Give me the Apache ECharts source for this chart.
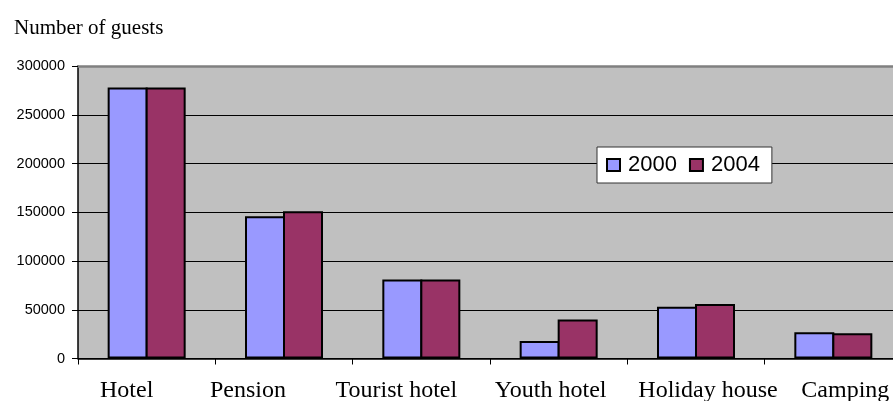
<!DOCTYPE html>
<html>
<head>
<meta charset="utf-8">
<script src="https://cdn.jsdelivr.net/npm/echarts@6/dist/echarts.min.js"></script>
<style>
  html, body { margin: 0; padding: 0; background: #fff; }
  #chart { width: 893px; height: 401px; }
</style>
</head>
<body>
<div id="chart"></div>
<script>
// Guests by accommodation type
const categories = ['Hotel', 'Pension', 'Tourist hotel', 'Youth hotel', 'Holiday house', 'Camping'];
const guests2000 = [278000, 146000, 81000, 18000, 53000, 27000];
const guests2004 = [278000, 151000, 81000, 40000, 56000, 26000];
const yTicks = [0, 50000, 100000, 150000, 200000, 250000, 300000];

// horizontal nudge (px) for each category caption
const labelShift = [-20, -36, -25, -8, 12, 12];

const rich = {};
categories.forEach((c, i) => {
  const s = labelShift[i];
  rich['c' + i] = {
    fontFamily: 'Liberation Serif, Times New Roman, serif',
    fontSize: 24,
    color: '#000',
    padding: s < 0 ? [0, -2 * s, 0, 0] : [0, 0, 0, 2 * s]
  };
});

const chart = echarts.init(document.getElementById('chart'), null, { renderer: 'canvas' });

chart.setOption({
  animation: false,
  backgroundColor: '#fff',
  title: {
    text: 'Number of guests',
    left: 9,
    top: 13,
    textStyle: {
      fontFamily: 'Liberation Serif, Times New Roman, serif',
      fontSize: 21,
      fontWeight: 'normal',
      color: '#000'
    }
  },
  legend: {
    data: ['2000', '2004'],
    left: 597,
    top: 147,
    orient: 'horizontal',
    backgroundColor: '#fff',
    borderColor: '#333',
    borderWidth: 1,
    padding: [7, 12, 7, 9],
    itemGap: 12,
    itemWidth: 13,
    itemHeight: 12,
    icon: 'rect',
    itemStyle: { borderColor: '#000', borderWidth: 2 },
    textStyle: {
      fontFamily: 'Liberation Sans, Arial, sans-serif',
      fontSize: 22,
      color: '#000',
      padding: [0, 0, 0, 3]
    }
  },
  grid: {
    left: 78,
    top: 66,
    right: -9,
    bottom: 42.5,
    outerBoundsMode: 'none',
    containLabel: false,
    show: true,
    backgroundColor: '#c0c0c0',
    borderWidth: 0
  },
  xAxis: [{
    type: 'category',
    data: categories,
    boundaryGap: true,
    axisLine: { show: true, lineStyle: { color: '#000', width: 1.5 } },
    axisTick: { show: true, length: 6, lineStyle: { color: '#000', width: 1 } },
    axisLabel: {
      margin: 20,
      interval: 0,
      formatter: (v) => '{c' + categories.indexOf(v) + '|' + v + '}',
      rich: rich
    },
    splitLine: { show: false }
  }, {
    // plot-area top border
    type: 'category',
    data: categories,
    position: 'top',
    axisLine: { show: true, lineStyle: { color: '#808080', width: 2.5 } },
    axisTick: { show: false },
    axisLabel: { show: false },
    splitLine: { show: false }
  }],
  yAxis: {
    type: 'value',
    min: yTicks[0],
    max: yTicks[yTicks.length - 1],
    interval: yTicks[1] - yTicks[0],
    axisLine: { show: true, lineStyle: { color: '#000', width: 1.5 } },
    axisTick: { show: true, length: 6, lineStyle: { color: '#000' } },
    axisLabel: {
      margin: 13,
      fontFamily: 'Liberation Sans, Arial, sans-serif',
      fontSize: 14.5,
      color: '#000',
      formatter: (v) => String(v)
    },
    splitLine: {
      show: true,
      lineStyle: { color: ['#000', '#000', '#000', '#000', '#000', '#000', 'rgba(0,0,0,0)'], width: 1 }
    }
  },
  series: [{
    name: '2000',
    type: 'bar',
    data: guests2000,
    barWidth: 40,
    barGap: '-5%',
    itemStyle: { color: '#9999ff', borderColor: '#000', borderWidth: 2 }
  }, {
    name: '2004',
    type: 'bar',
    data: guests2004,
    barWidth: 40,
    barGap: '-5%',
    itemStyle: { color: '#993366', borderColor: '#000', borderWidth: 2 }
  }]
});
</script>
</body>
</html>
